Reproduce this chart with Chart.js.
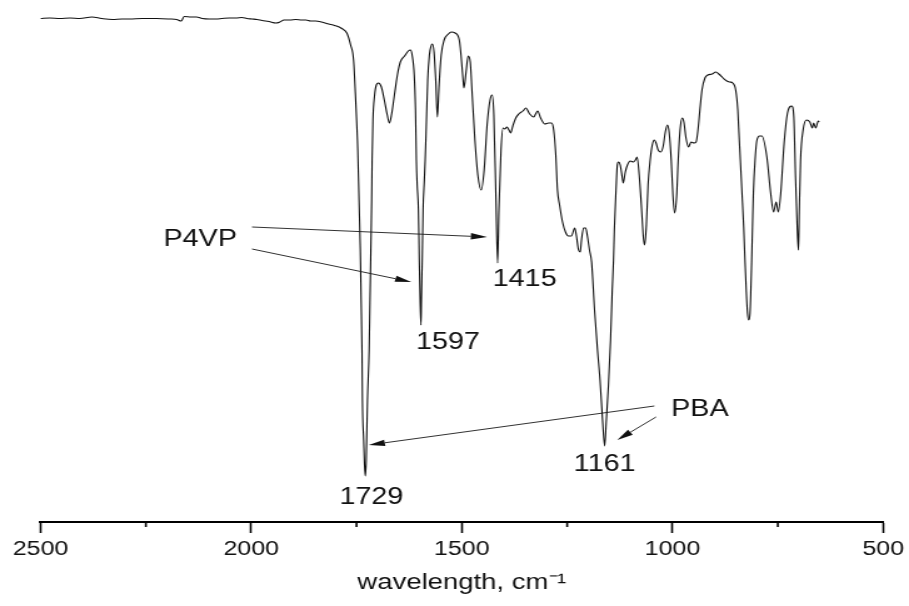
<!DOCTYPE html>
<html>
<head>
<meta charset="utf-8">
<script src="https://cdn.jsdelivr.net/npm/chart.js@4.4.1/dist/chart.umd.min.js"></script>
<style>
  html, body { margin: 0; padding: 0; background: #fff; }
  /* drawing surface is rendered at 727px and shown 909px wide */
  #ir { display: block; width: 909px !important; height: 606px !important; }
</style>
</head>
<body>
<canvas id="ir" width="727" height="606" style="width:909px;height:606px"></canvas>
<script>
// IR spectrum: wavenumber (cm-1) and transmittance (a.u.)
const wavenumbers = [
  2500,2478,2454,2430,2407,2378,2355,2329,2307,2289,
  2258,2225,2194,2177,2166,2159,2142,2130,2116,2100,
  2083,2069,2052,2036,2022,2010,1998,1986,1974,1958,
  1941,1932,1922,1908,1894,1880,1870,1859,1847,1833,
  1816,1802,1785,1773,1764,1757,1752,1747,1744,1741,
  1739,1737,1736,1733,1731,1729,1727,1724,1720,1718,
  1716,1714,1713,1711,1707,1703,1698,1691,1684,1677,
  1672,1667,1660,1653,1646,1636,1627,1622,1618,1613,
  1610,1608,1606,1603,1601,1599,1597,1596,1594,1592,
  1589,1587,1584,1581,1577,1573,1570,1566,1562,1558,
  1554,1549,1542,1532,1525,1516,1506,1502,1497,1495,
  1490,1485,1480,1476,1469,1462,1454,1447,1440,1433,
  1428,1424,1419,1415,1412,1407,1402,1398,1393,1388,
  1384,1379,1372,1365,1355,1348,1339,1329,1325,1320,
  1313,1303,1294,1287,1282,1277,1273,1268,1261,1254,
  1247,1240,1232,1228,1223,1219,1216,1211,1206,1202,
  1197,1192,1185,1178,1172,1166,1161,1157,1152,1147,
  1143,1140,1138,1134,1131,1128,1124,1119,1117,1112,
  1107,1100,1093,1088,1084,1079,1074,1069,1066,1062,
  1058,1053,1048,1043,1039,1034,1028,1022,1017,1012,
  1008,1003,999,995,990,987,982,977,973,968,
  962,956,949,944,939,935,930,923,916,906,
  897,890,880,871,864,857,850,845,843,839,
  835,831,828,825,822,819,816,814,812,810,
  808,804,800,793,788,776,767,760,754,749,
  743,735,727,717,712,708,704,701,699,696,
  690,682,674,668,665,660,654,652
];
const transmittance = [
  100.7,100.8,100.7,100.8,100.7,101.0,100.7,100.5,100.6,100.6,
  100.7,100.7,100.6,100.5,100.2,101.1,101.0,101.0,100.7,100.6,
  100.6,100.7,100.8,100.8,100.9,100.7,100.6,100.5,100.3,100.1,
  99.8,100.0,100.4,100.4,100.5,100.4,100.4,100.2,100.2,100.0,
  99.6,99.3,98.7,97.8,95.4,92.4,84.4,74.4,64.4,54.4,
  44.4,34.4,24.4,16.4,11.4,9.2,12.4,24.4,34.4,44.4,
  54.4,64.4,72.4,80.4,85.4,87.4,87.8,87.0,84.4,81.4,
  79.8,81.4,85.4,89.4,92.0,93.2,94.2,94.4,93.4,89.4,
  82.4,72.4,67.4,62.4,52.4,44.4,39.4,44.4,52.4,62.4,
  68.4,72.4,80.4,88.4,93.4,95.2,95.6,94.0,88.4,81.0,
  87.4,93.4,96.4,97.6,98.0,97.8,96.4,93.4,88.4,86.8,
  90.0,93.2,92.0,86.4,76.4,69.4,66.4,70.4,79.4,84.4,
  85.4,81.4,64.4,51.8,62.4,74.4,78.8,78.6,79.0,78.4,
  77.8,79.2,80.8,81.6,82.2,82.8,81.6,81.0,81.6,82.2,
  80.8,79.6,79.8,79.8,78.4,73.4,66.4,63.4,60.0,58.0,
  57.2,57.2,58.8,57.2,54.4,54.0,56.4,58.8,58.8,57.2,
  54.4,52.0,42.4,34.4,28.4,20.4,15.2,20.4,27.4,36.4,
  46.4,52.4,58.4,66.4,71.4,72.0,71.4,68.8,67.8,70.0,
  71.4,72.2,72.0,72.4,73.0,69.4,63.4,56.8,55.4,59.4,
  67.4,72.4,75.4,76.4,75.8,74.4,74.0,75.2,78.0,79.4,
  78.0,72.4,65.4,61.8,65.4,71.4,78.4,80.8,80.0,76.8,
  75.0,76.0,75.8,76.0,78.8,82.4,86.4,88.8,89.4,89.6,
  90.0,89.6,88.8,88.2,88.0,87.8,86.4,82.4,79.0,72.4,
  65.8,59.0,52.4,46.4,41.8,40.4,41.8,46.4,52.4,59.4,
  65.8,72.4,76.2,77.2,77.2,73.0,65.8,62.0,64.0,62.0,
  65.8,75.8,81.8,83.2,81.0,69.0,59.0,54.4,62.4,72.4,
  78.4,80.4,80.0,78.8,79.8,78.8,80.2,80.0
];

// labelled absorption bands
const labelledPeaks = [1729, 1597, 1415, 1161];
// axis tick labels
const majorTicks = [2500, 2000, 1500, 1000, 500];

// annotation layout: where band labels sit relative to their band (px),
// and where the assignment labels / arrows sit (cm-1, a.u.)
const peakLabelOffsets = { 1729: [4.8, 21.5], 1597: [21.6, 18], 1415: [21.6, 17], 1161: [0, 19] };
const groupNotes = [
  { text: 'P4VP', at: [2121, 56.5],
    arrows: [ { from: [1998, 59.0], to: [1440, 57.0] },
              { from: [1998, 54.6], to: [1620, 48.0] } ] },
  { text: 'PBA', at: [935, 22.4],
    arrows: [ { from: [1043, 23.2], to: [1721, 15.4] },
              { from: [1039, 21.0], to: [1131, 16.4] } ] }
];

const FONT = "'Liberation Sans', Arial, sans-serif";
const points = wavenumbers.map((w, i) => ({ x: w, y: transmittance[i] }));

const notesPlugin = {
  id: 'bandNotes',
  afterDatasetsDraw(chart) {
    const { ctx, scales: { x, y } } = chart;
    ctx.save();
    ctx.fillStyle = '#111';
    ctx.strokeStyle = '#1a1a1a';
    ctx.lineWidth = 0.9;
    ctx.font = '23px ' + FONT;
    ctx.textAlign = 'center';
    ctx.textBaseline = 'middle';

    // band position labels under each dip
    labelledPeaks.forEach(p => {
      const i = wavenumbers.indexOf(p);
      const off = peakLabelOffsets[p];
      const px = x.getPixelForValue(p) + off[0];
      const py = y.getPixelForValue(transmittance[i]) + off[1];
      ctx.fillText(String(p), px, py);
    });

    // assignment labels with arrows
    groupNotes.forEach(n => {
      ctx.fillText(n.text, x.getPixelForValue(n.at[0]), y.getPixelForValue(n.at[1]));
      n.arrows.forEach(a => {
        const x0 = x.getPixelForValue(a.from[0]), y0 = y.getPixelForValue(a.from[1]);
        const x1 = x.getPixelForValue(a.to[0]), y1 = y.getPixelForValue(a.to[1]);
        const ang = Math.atan2(y1 - y0, x1 - x0);
        const L = 13, W = 3.2;
        const bx = x1 - L * Math.cos(ang), by = y1 - L * Math.sin(ang);
        ctx.beginPath();
        ctx.moveTo(x0, y0);
        ctx.lineTo(bx, by);
        ctx.stroke();
        ctx.beginPath();
        ctx.moveTo(x1, y1);
        ctx.lineTo(bx + W * Math.sin(ang), by - W * Math.cos(ang));
        ctx.lineTo(bx - W * Math.sin(ang), by + W * Math.cos(ang));
        ctx.closePath();
        ctx.fill();
      });
    });
    ctx.restore();
  },
  afterDraw(chart) {
    // short minor tick marks between the labelled ones
    const { ctx, chartArea, scales: { x } } = chart;
    ctx.save();
    ctx.strokeStyle = '#000';
    ctx.lineWidth = 1.6;
    for (let v = 750; v < 2500; v += 500) {
      const px = x.getPixelForValue(v);
      ctx.beginPath();
      ctx.moveTo(px, chartArea.bottom);
      ctx.lineTo(px, chartArea.bottom + 5);
      ctx.stroke();
    }
    ctx.restore();
  }
};

new Chart(document.getElementById('ir'), {
  type: 'line',
  data: {
    datasets: [{
      data: points,
      borderColor: '#111',
      borderWidth: 1.1,
      pointRadius: 0,
      fill: false,
      cubicInterpolationMode: 'monotone'
    }]
  },
  options: {
    responsive: false,
    animation: false,
    events: [],
    layout: { padding: { left: 32.4, right: 17.6, top: 2, bottom: 0 } },
    plugins: { legend: { display: false }, tooltip: { enabled: false } },
    scales: {
      x: {
        type: 'linear',
        reverse: true,
        min: 500,
        max: 2500,
        afterFit(scale) { scale.height = 84; },
        border: { display: true, color: '#000', width: 2 },
        grid: {
          drawOnChartArea: false,
          drawTicks: true,
          tickLength: 11,
          tickWidth: 1.6,
          tickColor: c => (c.tick && majorTicks.includes(c.tick.value)) ? '#000' : 'rgba(0,0,0,0)'
        },
        ticks: {
          stepSize: 500,
          autoSkip: false,
          maxRotation: 0,
          padding: 4,
          color: '#111',
          font: { family: FONT, size: 20 },
          callback: v => majorTicks.includes(v) ? String(v) : ''
        },
        title: {
          display: true,
          text: 'wavelength, cm\u207B\u00B9',
          color: '#111',
          font: { family: FONT, size: 22 },
          padding: { top: 0, bottom: 10 }
        }
      },
      y: {
        display: false,
        min: 0,
        max: 104
      }
    }
  },
  plugins: [notesPlugin]
});
</script>
</body>
</html>
